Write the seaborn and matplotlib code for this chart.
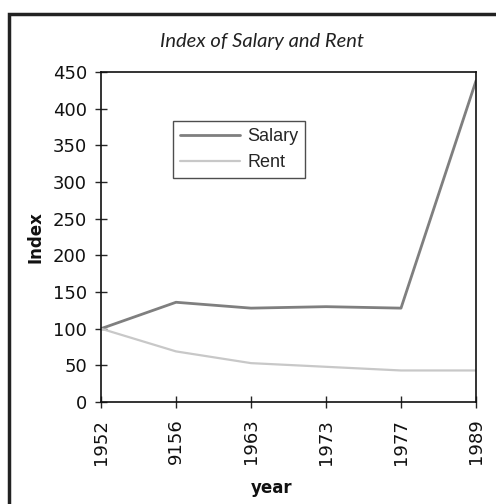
import matplotlib
matplotlib.use("Agg")
import matplotlib.pyplot as plt
from matplotlib.patches import Rectangle
import seaborn as sns
import pandas as pd

years = ["1952", "9156", "1963", "1973", "1977", "1989"]
salary = [100, 136, 128, 130, 128, 438]
rent = [100, 69, 53, 48, 43, 43]

df = pd.DataFrame({"year": years, "Salary": salary, "Rent": rent})
long_df = df.melt(id_vars="year", var_name="series", value_name="Index")

sns.set_style("white")
plt.rcParams["font.family"] = ["DejaVu Sans"]

fig = plt.figure(figsize=(4.96, 5.04), dpi=100)
ax = fig.add_axes([101 / 496, 1 - 402 / 504, 375 / 496, 330 / 504])

sns.lineplot(data=long_df, x="year", y="Index", hue="series", sort=False,
             palette={"Salary": "#7f7f7f", "Rent": "#c8c8c8"}, ax=ax)
for line, lw in zip(ax.lines, [2.0, 1.6]):
    line.set_linewidth(lw)

ax.set_xlim(0, len(years) - 1)
ax.set_ylim(0, 450)
ax.set_yticks(range(0, 451, 50))
ax.set_xticks(range(len(years)))
ax.set_xticklabels(years, rotation=90)
ax.tick_params(axis="y", direction="inout", length=8, width=1, pad=6, left=True)
ax.tick_params(axis="x", direction="inout", length=8, width=1, pad=8, bottom=True)
for lab in ax.get_xticklabels() + ax.get_yticklabels():
    lab.set_fontsize(13)
    lab.set_color("#111111")
for s in ax.spines.values():
    s.set_color("#111111")
    s.set_linewidth(1.2)
ax.set_xlabel("")
ax.set_ylabel("")

leg = ax.legend(loc="upper left", bbox_to_anchor=(72 / 375, (402 - 121) / 330),
                borderaxespad=0, frameon=True, fancybox=False, edgecolor="#222222",
                prop={"family": "Liberation Sans", "size": 13},
                handlelength=3.3, borderpad=0.4, labelspacing=0.5, handletextpad=0.4)
leg.get_frame().set_linewidth(1.0)
for h in leg.get_lines():
    h.set_linewidth(2.0 if h.get_label() == "Salary" else 1.6)

fig.text(262 / 496, 1 - 42 / 504, "Index of Salary and Rent", ha="center", va="center",
         fontsize=14.5, style="italic", family=["Lato", "DejaVu Sans"], color="#222222")
fig.text(35 / 496, 1 - 237 / 504, "Index", ha="center", va="center", rotation=90,
         fontsize=12, fontweight="bold", family=["DejaVu Sans"], color="#111111")
fig.text(272 / 496, 1 - 488 / 504, "year", ha="center", va="center",
         fontsize=12, fontweight="bold", family=["DejaVu Sans"], color="#111111")

fig.patches.append(Rectangle((9 / 496, -0.1), 1.2, 1 - 14 / 504 + 0.1, transform=fig.transFigure,
                             fill=False, edgecolor="#222222", linewidth=2.5, clip_on=False))

fig.savefig("out.png", dpi=100)
